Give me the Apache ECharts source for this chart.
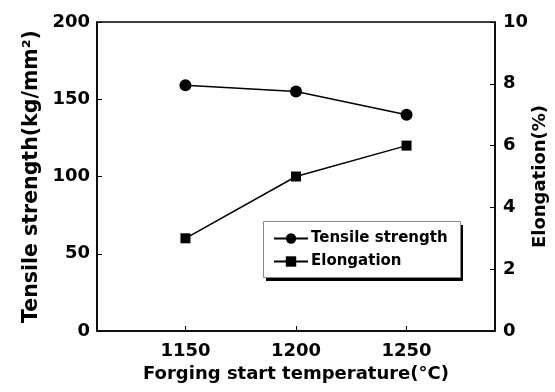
<!DOCTYPE html>
<html>
<head>
    <meta charset="UTF-8">
    <title>Forging start temperature</title>
    <script src="https://cdn.jsdelivr.net/npm/echarts@6.0.0/dist/echarts.min.js"></script>
    <style>
        html, body { margin: 0; padding: 0; background: #fff; }
        #chart { width: 555px; height: 392px; }
    </style>
</head>
<body>
    <div id="chart"></div>
    <script>
        // data
        var temperatures = [1150, 1200, 1250];
        var tensileStrength = [159, 155, 140];
        var elongation = [3, 5, 6];
        var xTicks = [1150, 1200, 1250];

        var font = 'DejaVu Sans, sans-serif';

        function pairs(xs, ys) {
            return xs.map(function (x, i) { return [x, ys[i]]; });
        }

        // legend frame (box + hard drop shadow), drawn by hand so the
        // border doesn't pick up the shadow too
        var legendBox = { x: 263, y: 221, w: 197, h: 56 };

        var chart = echarts.init(document.getElementById('chart'));
        var option = {
            animation: false,
            grid: {
                left: 97, right: 60, top: 22, bottom: 61,
                outerBoundsMode: 'none',
                containLabel: false,
                show: true, borderColor: '#000', borderWidth: 1.5
            },
            graphic: [{
                type: 'rect', z: 3, silent: true,
                shape: { x: legendBox.x + 3, y: legendBox.y + 4, width: legendBox.w, height: legendBox.h },
                style: { fill: '#000' }
            }, {
                type: 'rect', z: 3, silent: true,
                shape: { x: legendBox.x + 0.5, y: legendBox.y + 0.5, width: legendBox.w, height: legendBox.h },
                style: { fill: '#fff', stroke: '#888', lineWidth: 1 }
            }],
            legend: {
                orient: 'vertical',
                left: legendBox.x, top: legendBox.y,
                padding: [9, 10, 7, 10],
                itemGap: 6,
                itemWidth: 34,
                itemHeight: 13,
                z: 5,
                textStyle: { fontFamily: font, fontWeight: 'bold', fontSize: 15, lineHeight: 17, color: '#000', padding: [0, 4, 0, -2] },
                data: ['Tensile strength', 'Elongation']
            },
            xAxis: {
                type: 'value',
                min: 1110, max: 1290,
                name: 'Forging start temperature(°C)',
                nameLocation: 'middle',
                nameGap: 34,
                nameMoveOverlap: false,
                nameTextStyle: { fontFamily: font, fontWeight: 'bold', fontSize: 18, color: '#000' },
                axisLine: { lineStyle: { color: '#000', width: 1.5 } },
                axisTick: { inside: true, length: 5, customValues: xTicks, lineStyle: { color: '#000' } },
                axisLabel: {
                    customValues: xTicks, margin: 11,
                    formatter: function (v) { return String(v); },
                    fontFamily: font, fontWeight: 'bold', fontSize: 18, color: '#000'
                },
                splitLine: { show: false }
            },
            yAxis: [{
                type: 'value',
                min: 0, max: 200, interval: 50,
                name: 'Tensile strength(kg/mm²)',
                nameLocation: 'middle',
                nameGap: 55,
                nameMoveOverlap: false,
                nameTextStyle: { fontFamily: font, fontWeight: 'bold', fontSize: 20.5, color: '#000' },
                axisLine: { show: true, lineStyle: { color: '#000', width: 1.5 } },
                axisTick: { show: true, inside: true, length: 5, lineStyle: { color: '#000' } },
                axisLabel: { margin: 7, fontFamily: font, fontWeight: 'bold', fontSize: 18, color: '#000' },
                splitLine: { show: false }
            }, {
                type: 'value',
                position: 'right',
                min: 0, max: 10, interval: 2,
                name: 'Elongation(%)',
                nameLocation: 'middle',
                nameGap: 36,
                nameMoveOverlap: false,
                nameRotate: 90,
                nameTextStyle: { fontFamily: font, fontWeight: 'bold', fontSize: 18, color: '#000' },
                axisLine: { show: true, lineStyle: { color: '#000', width: 1.5 } },
                axisTick: { show: true, inside: true, length: 5, lineStyle: { color: '#000' } },
                axisLabel: { margin: 8, fontFamily: font, fontWeight: 'bold', fontSize: 18, color: '#000' },
                splitLine: { show: false }
            }],
            series: [{
                name: 'Tensile strength',
                type: 'line',
                yAxisIndex: 0,
                data: pairs(temperatures, tensileStrength),
                symbol: 'circle',
                symbolSize: 12,
                color: '#000',
                lineStyle: { color: '#000', width: 1.5 },
                itemStyle: { color: '#000' }
            }, {
                name: 'Elongation',
                type: 'line',
                yAxisIndex: 1,
                data: pairs(temperatures, elongation),
                symbol: 'rect',
                symbolSize: 10,
                color: '#000',
                lineStyle: { color: '#000', width: 1.5 },
                itemStyle: { color: '#000' }
            }]
        };
        chart.setOption(option);
    </script>
</body>
</html>
